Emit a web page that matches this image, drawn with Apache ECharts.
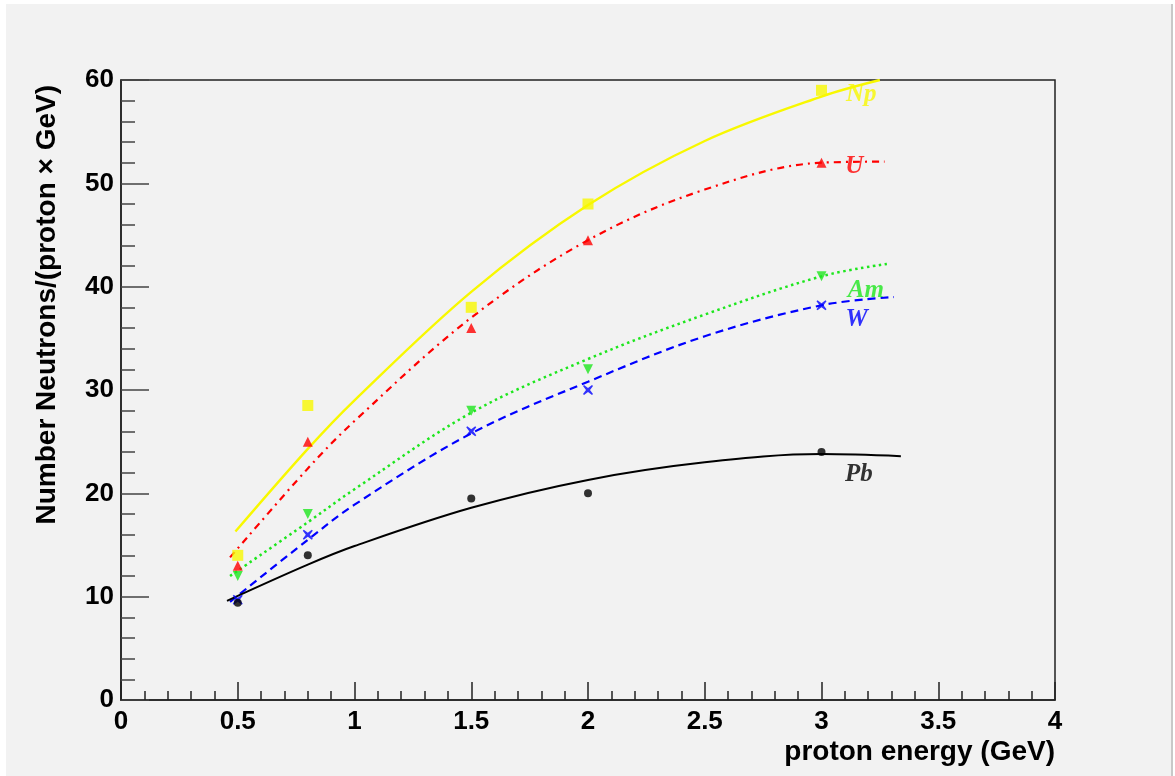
<!DOCTYPE html>
<html>
<head>
<meta charset="utf-8">
<script src="https://cdn.jsdelivr.net/npm/echarts@6/dist/echarts.min.js"></script>
<style>
  html, body { margin: 0; padding: 0; background: #ffffff; }
  #chart { position: absolute; left: 6px; top: 4px; width: 1165px; height: 772px; background: #f2f2f2; }
  #edge { position: absolute; left: 1171px; top: 4px; width: 2px; height: 772px; background: #c8c8c8; }
</style>
</head>
<body>
<div id="chart"></div>
<div id="edge"></div>
<script>
// measured points (proton energy GeV, neutrons per proton per GeV)
const energies = [0.5, 0.8, 1.5, 2, 3];
const npPoints = [14, 28.5, 38, 48, 59];
const uPoints  = [13, 25, 36, 44.5, 52];
const amPoints = [12, 18, 28, 32, 41];
const wPoints  = [9.7, 16, 26, 30, 38.2];
const pbPoints = [9.4, 14, 19.5, 20, 24];

// fitted curves: [x, y]
const npFit = [[0.49, 16.3], [0.8, 24.3], [1.0, 29.0], [1.5, 39.5], [2.0, 47.9], [2.5, 54.1], [3.0, 58.4], [3.25, 60]];
const uFit  = [[0.467, 13.8], [0.8, 22.4], [1.0, 27.0], [1.5, 37.0], [2.0, 44.5], [2.5, 49.4], [3.0, 52.0], [3.27, 52.1]];
const amFit = [[0.467, 12.0], [0.8, 17.2], [1.0, 20.4], [1.5, 27.8], [2.0, 33.0], [2.5, 37.3], [3.0, 41.0], [3.28, 42.2]];
const wFit  = [[0.467, 9.5], [0.8, 15.5], [1.0, 18.9], [1.5, 25.8], [2.0, 30.8], [2.5, 35.2], [3.0, 38.2], [3.31, 39.0]];
const pbFit = [[0.454, 9.6], [0.8, 13.1], [1.0, 14.9], [1.5, 18.6], [2.0, 21.3], [2.5, 23.0], [3.0, 23.8], [3.34, 23.6]];

// curve labels
const labelNames = ['Np', 'U', 'Am', 'W', 'Pb'];
const labelX = [3.17, 3.14, 3.19, 3.15, 3.16];
const labelY = [58.6, 51.6, 39.6, 36.8, 21.8];

const xTitle = 'proton energy (GeV)';
const yTitle = 'Number Neutrons/(proton \u00d7 GeV)';

const colors = { Np: '#f8f800', U: '#ff0000', Am: '#1ee61e', W: '#0000ff', Pb: '#000000' };

const pair = (arr) => energies.map((x, i) => [x, arr[i]]);

const chart = echarts.init(document.getElementById('chart'), null, { renderer: 'canvas' });

const fitLine = (name, data, color, type, width) => ({
  type: 'line', name: name, data: data, smooth: 0.35, symbol: 'none', z: 2,
  lineStyle: { color: color, width: width, type: type }
});
const pts = (name, data, color, symbol, size) => ({
  type: 'scatter', name: name, data: pair(data), symbol: symbol, symbolSize: size, z: 3,
  itemStyle: { color: color }
});

const xPath = 'path://M1,0 L5,3 L9,0 L10,1 L7,5 L10,9 L9,10 L5,7 L1,10 L0,9 L3,5 L0,1 Z M3,3 L7,3 L7,7 L3,7 Z';

chart.setOption({
  animation: false,
  backgroundColor: '#f2f2f2',
  grid: { left: 115, right: 116, top: 76, bottom: 76, show: true, borderColor: '#222', borderWidth: 1.5, backgroundColor: 'transparent' },
  xAxis: {
    type: 'value', min: 0, max: 4, interval: 0.5,
    axisLine: { show: true, onZero: false, lineStyle: { color: '#222', width: 1.5 } },
    axisTick: { show: true, inside: true, length: 18, lineStyle: { color: '#222', width: 1.5 } },
    minorTick: { show: true, splitNumber: 5, length: 9, lineStyle: { color: '#222', width: 1.5 } },
    splitLine: { show: false },
    axisLabel: { color: '#000', fontFamily: 'Liberation Sans', fontWeight: 'bold', fontSize: 26, margin: 9,
      formatter: (v) => String(v) }
  },
  yAxis: {
    type: 'value', min: 0, max: 60, interval: 10,
    axisLine: { show: true, onZero: false, lineStyle: { color: '#222', width: 1.5 } },
    axisTick: { show: true, inside: true, length: 28, lineStyle: { color: '#444', width: 1.5 } },
    minorTick: { show: true, splitNumber: 5, length: 14, lineStyle: { color: '#444', width: 1.5 } },
    splitLine: { show: false },
    axisLabel: { color: '#000', fontFamily: 'Liberation Sans', fontWeight: 'bold', fontSize: 26, margin: 7 }
  },
  graphic: [
    { type: 'text', x: 1049, y: 748, style: { text: xTitle, fill: '#000', font: 'bold 28px "Liberation Sans"', textAlign: 'right', textVerticalAlign: 'middle' } },
    { type: 'text', x: 41, y: 81, rotation: Math.PI / 2, style: { text: yTitle, fill: '#000', font: 'bold 28px "Liberation Sans"', textAlign: 'right', textVerticalAlign: 'middle' } }
  ],
  series: [
    fitLine('Np fit', npFit, colors.Np, 'solid', 2.4),
    fitLine('U fit', uFit, colors.U, [7, 5, 2, 5], 2.2),
    fitLine('Am fit', amFit, colors.Am, [2.5, 3.5], 2.5),
    fitLine('W fit', wFit, colors.W, [8, 5], 2.2),
    fitLine('Pb fit', pbFit, colors.Pb, 'solid', 2),
    pts('Np', npPoints, colors.Np, 'rect', 11),
    pts('U', uPoints, colors.U, 'triangle', 10),
    pts('Am', amPoints, colors.Am, 'path://M0,0 L10,0 L5,9 Z', 10),
    pts('W', wPoints, colors.W, xPath, 10),
    pts('Pb', pbPoints, colors.Pb, 'circle', 8),
    {
      type: 'scatter', name: 'labels', symbolSize: 0, z: 4, silent: true,
      data: labelNames.map((n, i) => ({
        value: [labelX[i], labelY[i]],
        label: { show: true, position: 'inside', formatter: n, color: colors[n],
          fontFamily: 'Liberation Serif', fontStyle: 'italic', fontWeight: 'bold', fontSize: 25 }
      }))
    }
  ]
});
</script>
</body>
</html>
